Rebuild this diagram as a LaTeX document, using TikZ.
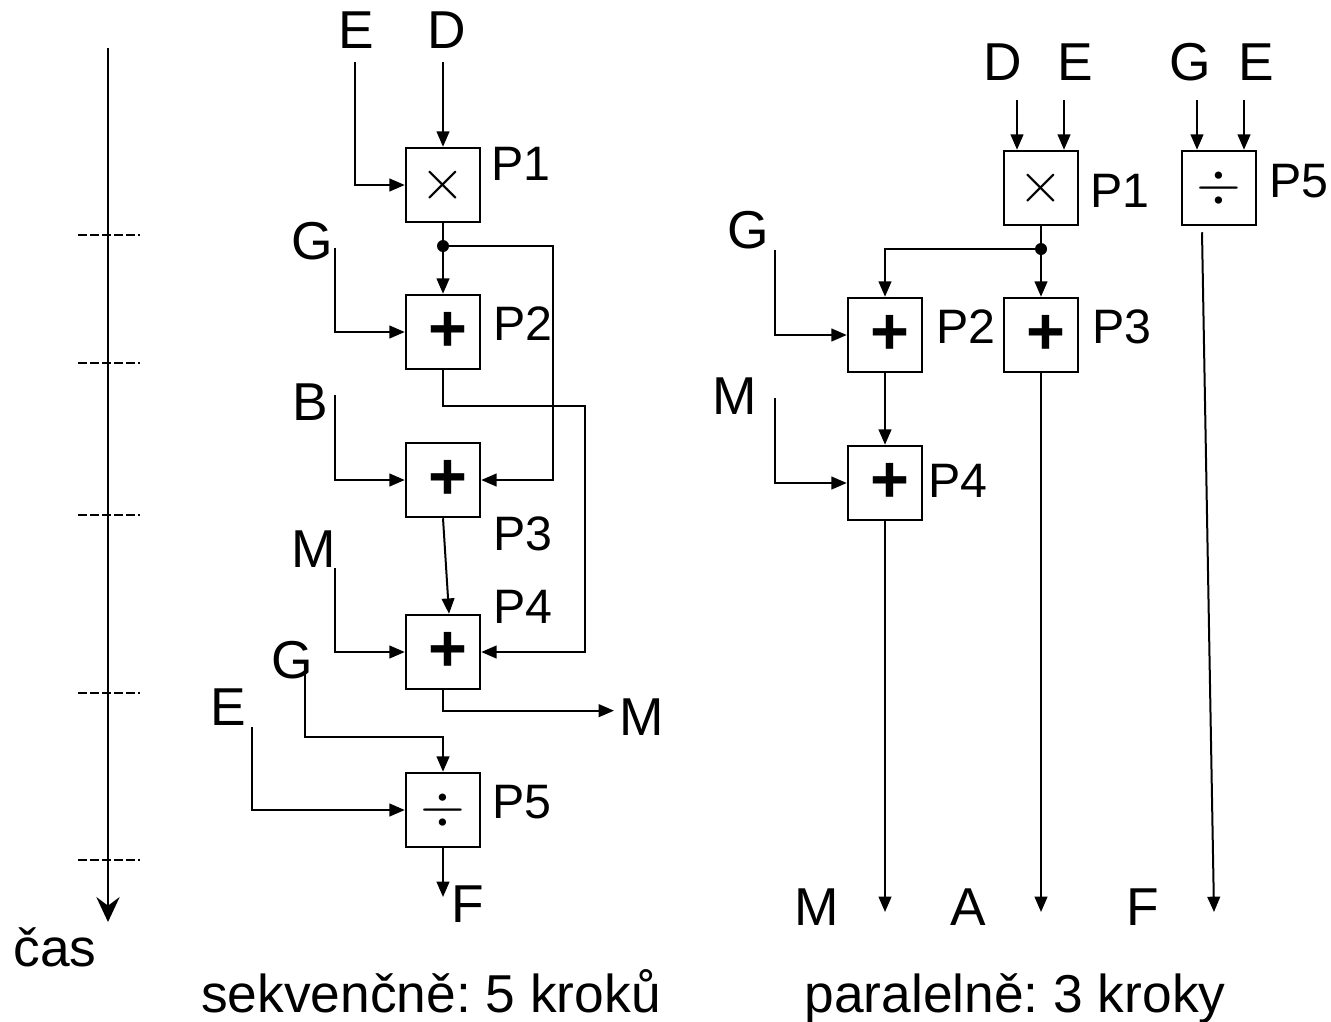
\documentclass[tikz,border=0pt]{standalone}
\usepackage{fontspec}
\setmainfont{Liberation Sans}
\usetikzlibrary{arrows.meta}
\usetikzlibrary{calc}
\frenchspacing

\begin{document}
\begin{tikzpicture}[x=0.3pt,y=-0.3pt,line width=0.6pt,
    >={Triangle[length=4.6pt,width=3.8pt]},
    op/.style={draw,line width=0.75pt,minimum size=22.2pt,inner sep=0pt},
    mul/.style={op,font=\fontsize{16}{16}\selectfont},
    add/.style={op,font=\fontsize{20}{20}\selectfont\bfseries},
    var/.style={inner sep=0pt,anchor=base,font=\fontsize{16}{19}\selectfont},
    proc/.style={inner sep=0pt,anchor=base west,font=\fontsize{14.5}{17}\selectfont},
    title/.style={inner sep=0pt,anchor=base,font=\fontsize{16}{19}\selectfont}]
    \useasboundingbox (0,0) rectangle (1331,1021);
    % time axis
    \coordinate (tTop) at (108,48);
    \coordinate (tBot) at (108,922);
    \draw[line width=0.65pt,-{Stealth[length=7.5pt,width=7pt,inset=2.6pt]}] (tTop) -- (tBot);
    \foreach \y in {235,363,515,693,860}
        \draw[dash pattern=on 2.6pt off 1pt] (78,\y) -- (140,\y);
    \node[var] (cas) at (55,966) {čas};
    % sequential
    \node[mul] (sP1) at (443,185) {$\times$};
    \node[add] (sP2) at (443,332) {\hspace{3pt}\raisebox{-1.5pt}{+}};
    \node[add] (sP3) at (443,480) {\hspace{3pt}\raisebox{-1.5pt}{+}};
    \node[add] (sP4) at (443,652) {\hspace{3pt}\raisebox{-1.5pt}{+}};
    \node[mul] (sP5) at (443,810) {$\div$};
    \node[proc] (sL1) at (490,180) {P1};
    \node[proc] (sL2) at (492,340) {P2};
    \node[proc] (sL3) at (492,550) {P3};
    \node[proc] (sL4) at (492,623) {P4};
    \node[proc] (sL5) at (491,818) {P5};
    \node[var] (sE1) at (356,48) {E};
    \node[var] (sD) at (447,48) {D};
    \node[var] (sG1) at (312,259) {G};
    \node[var] (sB) at (310,420) {B};
    \node[var] (sM) at (314,567) {M};
    \node[var] (sG2) at (292,678) {G};
    \node[var] (sE2) at (228,725) {E};
    \node[var,anchor=base west] (sMo) at (618,735) {M};
    \node[var,anchor=base west] (sF) at (450,922) {F};
    \coordinate (sE1a) at (355,62);
    \coordinate (sDa) at (443,62);
    \coordinate (sG1a) at (335,248);
    \coordinate (sBa) at (335,395);
    \coordinate (sMa) at (335,568);
    \coordinate (sG2a) at (305,673);
    \coordinate (sE2a) at (252,727);
    \coordinate (sDot) at (443,246);
    \coordinate (sR1) at (553,246);
    \coordinate (sR2) at (585,406);
    \coordinate (sFo) at (443,897);
    \draw[->] (sE1a) |- (sP1.west);
    \draw[->] (sDa) -- (sP1.north);
    \draw (sP1.south) -- (sDot);
    \fill (sDot) circle (1.8pt);
    \draw[->] (sDot) -- (sP2.north);
    \draw[->] (sDot) -- (sR1) |- (sP3.east);
    \draw[->] (sG1a) |- (sP2.west);
    \draw[->] (sP2.south) |- (sR2) |- (sP4.east);
    \draw[->] (sBa) |- (sP3.west);
    \draw[->] (sP3.south) -- ($(sP4.north)+(6,0)$);
    \draw[->] (sMa) |- (sP4.west);
    \draw[->] (sP4.south) |- ($(sMo.west)+(-4,-6)$);
    \draw[->] (sG2a) |- ($(sP5.north)+(0,-35)$) -- (sP5.north);
    \draw[->] (sE2a) |- (sP5.west);
    \draw[->] (sP5.south) -- (sFo);
    \node[title] (sTitle) at (431,1012) {sekvenčně: 5 kroků};
    % parallel
    \node[mul] (pP1) at (1041,188) {$\times$};
    \node[mul] (pP5) at (1219,188) {$\div$};
    \node[add] (pP2) at (885,335) {\hspace{3pt}\raisebox{-1.5pt}{+}};
    \node[add] (pP3) at (1041,335) {\hspace{3pt}\raisebox{-1.5pt}{+}};
    \node[add] (pP4) at (885,483) {\hspace{3pt}\raisebox{-1.5pt}{+}};
    \node[proc] (pL1) at (1089,207) {P1};
    \node[proc] (pL5) at (1268,197) {P5};
    \node[proc] (pL2) at (935,343) {P2};
    \node[proc] (pL3) at (1091,343) {P3};
    \node[proc] (pL4) at (927,497) {P4};
    \node[var] (pD) at (1003,80) {D};
    \node[var] (pE1) at (1075,80) {E};
    \node[var] (pG1) at (1190,80) {G};
    \node[var] (pE2) at (1256,80) {E};
    \node[var] (pG2) at (748,248) {G};
    \node[var] (pM) at (735,414) {M};
    \node[var] (pMo) at (817,925) {M};
    \node[var] (pA) at (968,925) {A};
    \node[var] (pF) at (1143,925) {F};
    \coordinate (pDa) at (1017,100);
    \coordinate (pE1a) at (1064,100);
    \coordinate (pG1a) at (1197,100);
    \coordinate (pE2a) at (1244,100);
    \coordinate (pG2a) at (775,250);
    \coordinate (pMa) at (775,398);
    \coordinate (pDot) at (1041,249);
    \coordinate (pMe) at (885,912);
    \coordinate (pAe) at (1041,912);
    \coordinate (pFe) at (1214,912);
    \draw[->] (pDa) -- (pDa |- pP1.north);
    \draw[->] (pE1a) -- (pE1a |- pP1.north);
    \draw[->] (pG1a) -- (pG1a |- pP5.north);
    \draw[->] (pE2a) -- (pE2a |- pP5.north);
    \draw (pP1.south) -- (pDot);
    \fill (pDot) circle (1.8pt);
    \draw[->] (pDot) -| (pP2.north);
    \draw[->] (pDot) -- (pP3.north);
    \draw[->] (pG2a) |- (pP2.west);
    \draw[->] (pMa) |- (pP4.west);
    \draw[->] (pP2.south) -- (pP4.north);
    \draw[->] (pP4.south) -- (pMe);
    \draw[->] (pP3.south) -- (pAe);
    \draw[->] ($(pP5.south)+(-17,6)$) -- (pFe);
    \node[title] (pTitle) at (1015,1012) {paralelně: 3 kroky};
\end{tikzpicture}
\end{document}
